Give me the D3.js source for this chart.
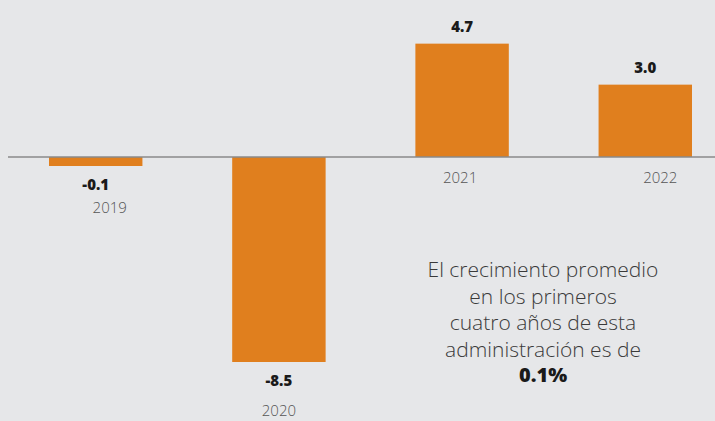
<!DOCTYPE html>
<html>
<head>
<meta charset="utf-8">
<script src="https://cdn.jsdelivr.net/npm/d3@7"></script>
<style>
  body { margin: 0; background: #e6e7e9; }
  svg { display: block; }
</style>
</head>
<body>
<svg id="chart"></svg>
<script>
const years = ["2019", "2020", "2021", "2022"];
const growth = [-0.1, -8.5, 4.7, 3.0];
const valueLabels = ["-0.1", "-8.5", "4.7", "3.0"];
const note = ["El crecimiento promedio", "en los primeros", "cuatro años de esta", "administración es de"];
const noteValue = "0.1%";

const width = 715, height = 421;
const svg = d3.select("#chart").attr("width", width).attr("height", height);

const data = years.map((y, i) => ({ year: y, value: growth[i], label: valueLabels[i] }));

const x = d3.scaleBand().domain(years).range([49, 692]).paddingInner(0.49).paddingOuter(0);
const y = d3.scaleLinear().domain([-8.5, 0]).range([362, 157]);

const minH = 9; // tiny bars still visible
const barBottom = d => y(0) + Math.max(y(d.value) - y(0), minH);

svg.append("g")
  .selectAll("rect")
  .data(data)
  .join("rect")
  .attr("x", d => x(d.year))
  .attr("width", x.bandwidth())
  .attr("y", d => d.value >= 0 ? y(d.value) : y(0))
  .attr("height", d => Math.max(Math.abs(y(d.value) - y(0)), minH))
  .attr("fill", "#e07f1e");

svg.append("line")
  .attr("x1", 8).attr("x2", width)
  .attr("y1", y(0)).attr("y2", y(0))
  .attr("stroke", "#8a8a8a")
  .attr("stroke-width", 1.5);

// value labels
svg.append("g")
  .selectAll("text")
  .data(data)
  .join("text")
  .attr("x", d => x(d.year) + x.bandwidth() / 2)
  .attr("y", d => d.value >= 0 ? y(d.value) - 12 : barBottom(d) + 24)
  .attr("text-anchor", "middle")
  .style("font-family", "'Open Sans', sans-serif")
  .style("font-weight", 800)
  .style("font-size", "15px")
  .style("fill", "#1a1a1a")
  .text(d => d.label);

// year labels (small hand nudges like the original)
const nudgeX = { "2019": 14, "2020": 0, "2021": -2, "2022": 15 };
const nudgeY = { "2019": -7, "2020": 0, "2021": 0, "2022": 0 };
svg.append("g")
  .selectAll("text")
  .data(data)
  .join("text")
  .attr("x", d => x(d.year) + x.bandwidth() / 2 + nudgeX[d.year])
  .attr("y", d => (d.value >= 0 ? y(0) + 26 : barBottom(d) + 54) + nudgeY[d.year])
  .attr("text-anchor", "middle")
  .style("font-family", "'Open Sans', sans-serif")
  .style("font-weight", 300)
  .style("font-size", "15px")
  .style("fill", "#555")
  .text(d => d.year);

// note
const noteG = svg.append("g").attr("transform", "translate(543,0)");
noteG.selectAll("text.line")
  .data(note)
  .join("text")
  .attr("class", "line")
  .attr("x", 0)
  .attr("y", (d, i) => 277 + i * 26.5)
  .attr("text-anchor", "middle")
  .style("font-family", "'Open Sans', sans-serif")
  .style("font-weight", 300)
  .style("font-size", "21px")
  .style("fill", "#3a3a3a")
  .text(d => d);

noteG.append("text")
  .attr("x", 0)
  .attr("y", 277 + note.length * 26.5 - 1)
  .attr("text-anchor", "middle")
  .style("font-family", "'Open Sans', sans-serif")
  .style("font-weight", 800)
  .style("font-size", "20px")
  .style("fill", "#1a1a1a")
  .text(noteValue);
</script>
</body>
</html>
